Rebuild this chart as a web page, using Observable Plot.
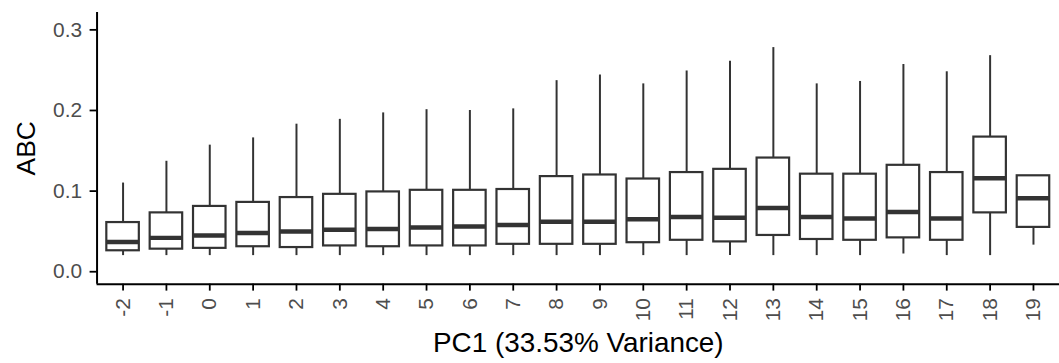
<!DOCTYPE html>
<html>
<head>
<meta charset="utf-8">
<script src="https://cdn.jsdelivr.net/npm/d3@7"></script>
<script src="https://cdn.jsdelivr.net/npm/@observablehq/plot@0.6"></script>
<style>
  html, body { margin: 0; padding: 0; background: #fff; overflow: hidden; }
  #chart svg { display: block; }
</style>
</head>
<body>
<div id="chart"></div>
<script>
// PC1 categories
const categories = [-2, -1, 0, 1, 2, 3, 4, 5, 6, 7, 8, 9, 10, 11, 12, 13, 14, 15, 16, 17, 18, 19];
// Boxplot statistics
const whiskerLow  = [0.020, 0.020, 0.020, 0.020, 0.020, 0.020, 0.020, 0.020, 0.020, 0.020, 0.020, 0.020, 0.020, 0.020, 0.020, 0.020, 0.020, 0.020, 0.022, 0.020, 0.020, 0.033];
const q1          = [0.026, 0.028, 0.029, 0.031, 0.030, 0.032, 0.031, 0.032, 0.032, 0.034, 0.034, 0.034, 0.036, 0.039, 0.037, 0.045, 0.040, 0.039, 0.042, 0.039, 0.073, 0.055];
const median      = [0.037, 0.042, 0.045, 0.048, 0.050, 0.052, 0.053, 0.055, 0.056, 0.058, 0.062, 0.062, 0.065, 0.068, 0.067, 0.079, 0.068, 0.066, 0.074, 0.066, 0.116, 0.091];
const q3          = [0.061, 0.073, 0.081, 0.086, 0.092, 0.096, 0.099, 0.101, 0.101, 0.102, 0.118, 0.120, 0.115, 0.123, 0.127, 0.141, 0.121, 0.121, 0.132, 0.123, 0.167, 0.119];
const whiskerHigh = [0.110, 0.137, 0.157, 0.166, 0.183, 0.189, 0.197, 0.201, 0.200, 0.202, 0.237, 0.244, 0.233, 0.249, 0.261, 0.278, 0.233, 0.236, 0.257, 0.248, 0.268, 0.119];
const yTicks = [0, 0.1, 0.2, 0.3];
const xTitle = "PC1 (33.53% Variance)";
const yTitle = "ABC";

const data = categories.map((c, i) => ({
  pc: c, lo: whiskerLow[i], q1: q1[i], med: median[i], q3: q3[i], hi: whiskerHigh[i]
}));
const half = 0.375;
const yDomain = [-0.0154, 0.3216];
const xDomain = [-2.6, 19.6];
const font = "'Liberation Sans', Arial, Helvetica, sans-serif";
const boxColor = "#333333";

const chart = Plot.plot({
  width: 1064,
  height: 363,
  marginLeft: 97,
  marginRight: 0,
  marginTop: 12,
  marginBottom: 78,
  style: {fontFamily: font, fontSize: "21px", background: "#fff"},
  x: {type: "linear", domain: xDomain, axis: null},
  y: {domain: yDomain, axis: null},
  marks: [
    // whiskers
    Plot.ruleX(data, {x: "pc", y1: "lo", y2: "q1", stroke: boxColor, strokeWidth: 2}),
    Plot.ruleX(data, {x: "pc", y1: "q3", y2: "hi", stroke: boxColor, strokeWidth: 2}),
    // boxes
    Plot.rect(data, {x1: d => d.pc - half, x2: d => d.pc + half, y1: "q1", y2: "q3", fill: "white", stroke: boxColor, strokeWidth: 2.2}),
    // medians
    Plot.ruleY(data, {y: "med", x1: d => d.pc - half, x2: d => d.pc + half, stroke: boxColor, strokeWidth: 4.5}),
    // axes
    Plot.axisY({ticks: yTicks, tickFormat: d3.format(".1f"), tickSize: 7, tickPadding: 8, fontSize: 21, stroke: "black", fill: "#4d4d4d", strokeWidth: 1.8, label: null}),
    Plot.axisX({ticks: categories, tickFormat: d => String(d), tickRotate: -90, tickSize: 7, tickPadding: 7, fontSize: 21, stroke: "black", fill: "#4d4d4d", strokeWidth: 1.8, label: null}),
    Plot.ruleX([xDomain[0]], {y1: yDomain[0], y2: yDomain[1], stroke: "black", strokeWidth: 2}),
    Plot.ruleY([yDomain[0]], {x1: xDomain[0], x2: xDomain[1], stroke: "black", strokeWidth: 2}),
    // titles
    Plot.text([xTitle], {text: d => d, frameAnchor: "bottom", lineAnchor: "middle", textAnchor: "middle", dy: 59.5, fontSize: 28, fill: "black"}),
    Plot.text([yTitle], {text: d => d, frameAnchor: "left", lineAnchor: "middle", textAnchor: "middle", dx: -71, rotate: -90, fontSize: 26.5, fill: "black"})
  ]
});
document.getElementById("chart").appendChild(chart);
</script>
</body>
</html>
